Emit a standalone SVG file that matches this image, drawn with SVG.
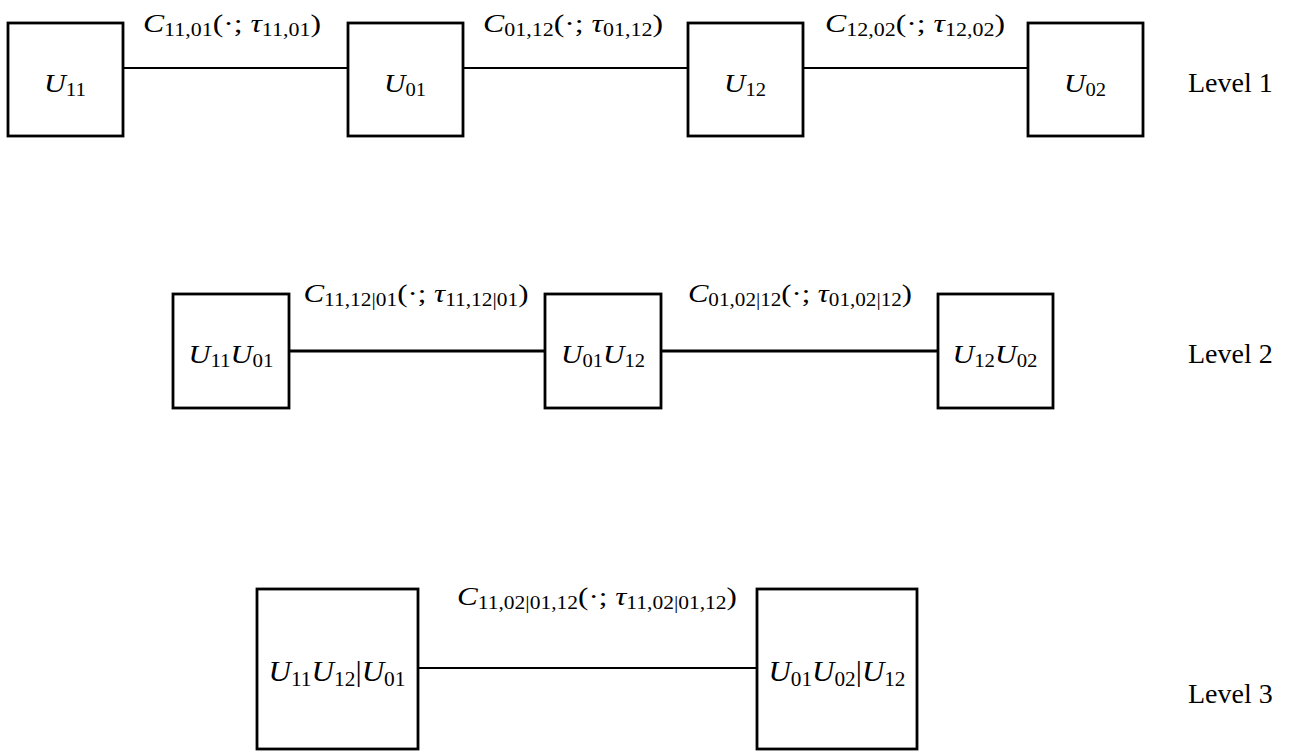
<svg xmlns="http://www.w3.org/2000/svg" width="1289" height="751" viewBox="0 0 1289 751">
<style>
.box{fill:#fff;stroke:#000;stroke-width:2.8}
.m{font-family:"Liberation Serif","Times New Roman",serif;font-size:26px;fill:#000}
.big{font-size:29px}
.i{font-style:italic}
.s{font-size:18px;font-style:normal}
.big .s{font-size:20px}
.lv{font-family:"Liberation Serif","Times New Roman",serif;font-size:28px;fill:#000}
.c1{stroke:#000;stroke-width:1.8;fill:none}
.c2{stroke:#000;stroke-width:2.8;fill:none}
.c3{stroke:#000;stroke-width:2.2;fill:none}
</style>
<g id="connectors">
<line class="c1" x1="123" y1="68" x2="348" y2="68"/>
<line class="c1" x1="463" y1="68" x2="688" y2="68"/>
<line class="c1" x1="803" y1="68" x2="1028" y2="68"/>
<line class="c2" x1="289" y1="351" x2="545" y2="351"/>
<line class="c2" x1="661" y1="351" x2="938" y2="351"/>
<line class="c3" x1="418" y1="668" x2="757" y2="668"/>
</g>
<g id="edge-labels">
<text class="m" x="232" y="32" text-anchor="middle" textLength="178" lengthAdjust="spacingAndGlyphs"><tspan class="i">C</tspan><tspan class="s" dy="4">11,01</tspan><tspan dy="-4">(·; </tspan><tspan class="i">τ</tspan><tspan class="s" dy="4">11,01</tspan><tspan dy="-4">)</tspan></text>
<text class="m" x="573" y="32" text-anchor="middle" textLength="180" lengthAdjust="spacingAndGlyphs"><tspan class="i">C</tspan><tspan class="s" dy="4">01,12</tspan><tspan dy="-4">(·; </tspan><tspan class="i">τ</tspan><tspan class="s" dy="4">01,12</tspan><tspan dy="-4">)</tspan></text>
<text class="m" x="915" y="32" text-anchor="middle" textLength="180" lengthAdjust="spacingAndGlyphs"><tspan class="i">C</tspan><tspan class="s" dy="4">12,02</tspan><tspan dy="-4">(·; </tspan><tspan class="i">τ</tspan><tspan class="s" dy="4">12,02</tspan><tspan dy="-4">)</tspan></text>
<text class="m" x="416" y="302" text-anchor="middle" textLength="225" lengthAdjust="spacingAndGlyphs"><tspan class="i">C</tspan><tspan class="s" dy="4">11,12|01</tspan><tspan dy="-4">(·; </tspan><tspan class="i">τ</tspan><tspan class="s" dy="4">11,12|01</tspan><tspan dy="-4">)</tspan></text>
<text class="m" x="800" y="302" text-anchor="middle" textLength="224" lengthAdjust="spacingAndGlyphs"><tspan class="i">C</tspan><tspan class="s" dy="4">01,02|12</tspan><tspan dy="-4">(·; </tspan><tspan class="i">τ</tspan><tspan class="s" dy="4">01,02|12</tspan><tspan dy="-4">)</tspan></text>
<text class="m" x="597" y="605" text-anchor="middle" textLength="280" lengthAdjust="spacingAndGlyphs"><tspan class="i">C</tspan><tspan class="s" dy="4">11,02|01,12</tspan><tspan dy="-4">(·; </tspan><tspan class="i">τ</tspan><tspan class="s" dy="4">11,02|01,12</tspan><tspan dy="-4">)</tspan></text>
</g>
<g id="n-U11"><rect class="box" x="8" y="23" width="115" height="113"/><text class="m" x="65" y="92" text-anchor="middle" textLength="42" lengthAdjust="spacingAndGlyphs"><tspan class="i">U</tspan><tspan class="s" dy="4">11</tspan></text></g>
<g id="n-U01"><rect class="box" x="348" y="23" width="115" height="113"/><text class="m" x="405" y="92" text-anchor="middle" textLength="42" lengthAdjust="spacingAndGlyphs"><tspan class="i">U</tspan><tspan class="s" dy="4">01</tspan></text></g>
<g id="n-U12"><rect class="box" x="688" y="23" width="115" height="113"/><text class="m" x="745" y="92" text-anchor="middle" textLength="42" lengthAdjust="spacingAndGlyphs"><tspan class="i">U</tspan><tspan class="s" dy="4">12</tspan></text></g>
<g id="n-U02"><rect class="box" x="1028" y="23" width="115" height="113"/><text class="m" x="1085" y="92" text-anchor="middle" textLength="42" lengthAdjust="spacingAndGlyphs"><tspan class="i">U</tspan><tspan class="s" dy="4">02</tspan></text></g>
<g id="n-U11U01"><rect class="box" x="173" y="294" width="116" height="114"/><text class="m" x="231" y="363" text-anchor="middle" textLength="85" lengthAdjust="spacingAndGlyphs"><tspan class="i">U</tspan><tspan class="s" dy="4">11</tspan><tspan class="i" dy="-4">U</tspan><tspan class="s" dy="4">01</tspan></text></g>
<g id="n-U01U12"><rect class="box" x="545" y="294" width="116" height="114"/><text class="m" x="603" y="363" text-anchor="middle" textLength="84" lengthAdjust="spacingAndGlyphs"><tspan class="i">U</tspan><tspan class="s" dy="4">01</tspan><tspan class="i" dy="-4">U</tspan><tspan class="s" dy="4">12</tspan></text></g>
<g id="n-U12U02"><rect class="box" x="938" y="294" width="115" height="114"/><text class="m" x="995" y="363" text-anchor="middle" textLength="85" lengthAdjust="spacingAndGlyphs"><tspan class="i">U</tspan><tspan class="s" dy="4">12</tspan><tspan class="i" dy="-4">U</tspan><tspan class="s" dy="4">02</tspan></text></g>
<g id="n-L3a"><rect class="box" x="257" y="589" width="161" height="160"/><text class="m big" x="337" y="681" text-anchor="middle" textLength="137" lengthAdjust="spacingAndGlyphs"><tspan class="i">U</tspan><tspan class="s" dy="5">11</tspan><tspan class="i" dy="-5">U</tspan><tspan class="s" dy="5">12</tspan><tspan dy="-5">|</tspan><tspan class="i">U</tspan><tspan class="s" dy="5">01</tspan></text></g>
<g id="n-L3b"><rect class="box" x="757" y="589" width="160" height="160"/><text class="m big" x="837" y="681" text-anchor="middle" textLength="137" lengthAdjust="spacingAndGlyphs"><tspan class="i">U</tspan><tspan class="s" dy="5">01</tspan><tspan class="i" dy="-5">U</tspan><tspan class="s" dy="5">02</tspan><tspan dy="-5">|</tspan><tspan class="i">U</tspan><tspan class="s" dy="5">12</tspan></text></g>
<g id="levels">
<text class="lv" x="1188" y="92">Level 1</text>
<text class="lv" x="1188" y="363">Level 2</text>
<text class="lv" x="1188" y="703">Level 3</text>
</g>
</svg>
